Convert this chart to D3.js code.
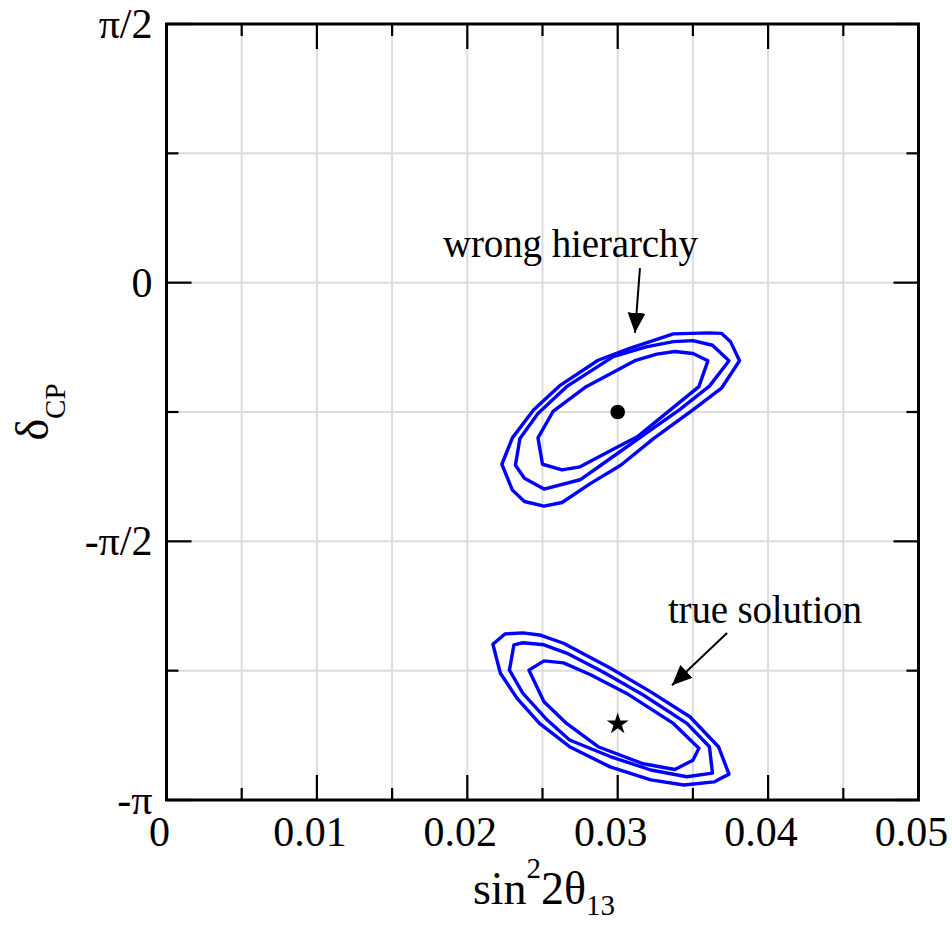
<!DOCTYPE html>
<html>
<head>
<meta charset="utf-8">
<script src="https://cdn.jsdelivr.net/npm/d3@7"></script>
<style>
  body { margin: 0; background: #fff; }
  svg { display: block; }
  text { font-family: "Liberation Serif", "Times New Roman", serif; fill: #000; }
</style>
</head>
<body>
<svg id="chart"></svg>
<script>
// x: sin^2 2theta13, y: delta_CP in units of pi
const xMajor = [0, 0.01, 0.02, 0.03, 0.04, 0.05];
const xMinor = [0.005, 0.015, 0.025, 0.035, 0.045];
const xTickLabels = ["0", "0.01", "0.02", "0.03", "0.04", "0.05"];
const yMajor = [0.5, 0, -0.5, -1];
const yMinor = [0.25, -0.25, -0.75];
const yTickLabels = ["π/2", "0", "-π/2", "-π"];

// wrong hierarchy contours (outer, middle, inner)
const wrongOuter = [
  [0.0337, -0.099], [0.0361, -0.097], [0.0369, -0.098], [0.0375, -0.114], [0.0381, -0.151],
  [0.0369, -0.204], [0.0350, -0.246], [0.0324, -0.301], [0.0302, -0.353], [0.0282, -0.388],
  [0.0263, -0.425], [0.0251, -0.432], [0.0238, -0.423], [0.0230, -0.401], [0.0223, -0.351],
  [0.0230, -0.300], [0.0244, -0.246], [0.0262, -0.198], [0.0287, -0.150], [0.0308, -0.127]
];
const wrongMiddle = [
  [0.0337, -0.114], [0.0350, -0.112], [0.0363, -0.121], [0.0374, -0.151], [0.0361, -0.200],
  [0.0341, -0.246], [0.0319, -0.291], [0.0297, -0.336], [0.0275, -0.381], [0.0251, -0.399],
  [0.0238, -0.378], [0.0232, -0.353], [0.0235, -0.301], [0.0247, -0.253], [0.0266, -0.201],
  [0.0297, -0.143], [0.0319, -0.124]
];
const wrongInner = [
  [0.0338, -0.133], [0.0350, -0.137], [0.0360, -0.151], [0.0354, -0.201], [0.0335, -0.246],
  [0.0313, -0.298], [0.0297, -0.322], [0.0275, -0.356], [0.0263, -0.362], [0.0250, -0.351],
  [0.0247, -0.300], [0.0257, -0.249], [0.0279, -0.201], [0.0312, -0.150], [0.0326, -0.138]
];

// true solution contours (outer, middle, inner)
const trueOuter = [
  [0.0217, -0.699], [0.0225, -0.679], [0.0237, -0.677], [0.0248, -0.681], [0.0264, -0.697],
  [0.0279, -0.720], [0.0295, -0.745], [0.0322, -0.791], [0.0348, -0.839], [0.0367, -0.897],
  [0.0374, -0.950], [0.0364, -0.965], [0.0344, -0.971], [0.0322, -0.961], [0.0295, -0.936],
  [0.0268, -0.897], [0.0248, -0.852], [0.0233, -0.803], [0.0222, -0.755]
];
const trueMiddle = [
  [0.0231, -0.700], [0.0237, -0.696], [0.0251, -0.700], [0.0266, -0.716], [0.0290, -0.752],
  [0.0317, -0.797], [0.0346, -0.852], [0.0361, -0.897], [0.0363, -0.948], [0.0346, -0.955],
  [0.0322, -0.942], [0.0295, -0.916], [0.0268, -0.884], [0.0253, -0.845], [0.0237, -0.794],
  [0.0228, -0.749]
];
const trueInner = [
  [0.0241, -0.749], [0.0251, -0.731], [0.0264, -0.735], [0.0282, -0.758], [0.0306, -0.794],
  [0.0337, -0.852], [0.0354, -0.900], [0.0350, -0.923], [0.0338, -0.941], [0.0317, -0.930],
  [0.0287, -0.897], [0.0266, -0.852], [0.0251, -0.810]
];

const wrongBest = [0.03, -0.25];
const trueBest = [0.03, -0.853];

const notes = [
  { text: "wrong hierarchy", tx: 0.01838, ty: 0.050, from: [0.03148, 0.028], to: [0.03115, -0.097] },
  { text: "true solution", tx: 0.03334, ty: -0.658, from: [0.03727, -0.677], to: [0.03361, -0.778] }
];

const width = 952, height = 926;
const margin = { top: 24, right: 33.5, bottom: 126, left: 166.5 };

const svg = d3.select("#chart").attr("width", width).attr("height", height);

const x = d3.scaleLinear().domain([0, 0.05]).range([margin.left, width - margin.right]);
const y = d3.scaleLinear().domain([-1, 0.5]).range([height - margin.bottom, margin.top]);

// grid
const grid = svg.append("g").attr("stroke", "#dcdcdc").attr("stroke-width", 2);
grid.selectAll(".gx").data(xMajor.concat(xMinor)).join("line")
  .attr("x1", d => x(d)).attr("x2", d => x(d))
  .attr("y1", y(-1)).attr("y2", y(0.5));
grid.selectAll(".gy").data(yMajor.concat(yMinor)).join("line")
  .attr("x1", x(0)).attr("x2", x(0.05))
  .attr("y1", d => y(d)).attr("y2", d => y(d));

// ticks, inward on all four sides
const majorLen = 25, minorLen = 12;
const ticks = svg.append("g").attr("stroke", "#000").attr("stroke-width", 2.2);
const xt = xMajor.map(v => [v, majorLen]).concat(xMinor.map(v => [v, minorLen]));
const yt = yMajor.map(v => [v, majorLen]).concat(yMinor.map(v => [v, minorLen]));
ticks.selectAll(".tb").data(xt).join("line")
  .attr("x1", d => x(d[0])).attr("x2", d => x(d[0]))
  .attr("y1", y(-1)).attr("y2", d => y(-1) - d[1]);
ticks.selectAll(".tt").data(xt).join("line")
  .attr("x1", d => x(d[0])).attr("x2", d => x(d[0]))
  .attr("y1", y(0.5)).attr("y2", d => y(0.5) + d[1]);
ticks.selectAll(".tl").data(yt).join("line")
  .attr("y1", d => y(d[0])).attr("y2", d => y(d[0]))
  .attr("x1", x(0)).attr("x2", d => x(0) + d[1]);
ticks.selectAll(".tr").data(yt).join("line")
  .attr("y1", d => y(d[0])).attr("y2", d => y(d[0]))
  .attr("x1", x(0.05)).attr("x2", d => x(0.05) - d[1]);

// contours
const line = d3.line()
  .x(d => x(d[0]))
  .y(d => y(d[1]))
  .curve(d3.curveLinearClosed);

svg.append("g")
  .selectAll("path")
  .data([wrongOuter, wrongMiddle, wrongInner, trueOuter, trueMiddle, trueInner])
  .join("path")
  .attr("d", line)
  .attr("fill", "none")
  .attr("stroke", "#0000ff")
  .attr("stroke-width", 3.4)
  .attr("stroke-linejoin", "round");

// best fit points
svg.append("circle")
  .attr("cx", x(wrongBest[0])).attr("cy", y(wrongBest[1]))
  .attr("r", 7.3).attr("fill", "#000");
svg.append("path")
  .attr("d", d3.symbol(d3.symbolStar, 150)())
  .attr("transform", `translate(${x(trueBest[0])},${y(trueBest[1])})`)
  .attr("fill", "#000");

// frame
svg.append("rect")
  .attr("x", x(0)).attr("y", y(0.5))
  .attr("width", x(0.05) - x(0)).attr("height", y(-1) - y(0.5))
  .attr("fill", "none").attr("stroke", "#000").attr("stroke-width", 3);

// annotations
svg.append("defs").append("marker")
  .attr("id", "arrow")
  .attr("markerUnits", "userSpaceOnUse")
  .attr("markerWidth", 20).attr("markerHeight", 20)
  .attr("viewBox", "0 -9 19 18")
  .attr("refX", 19).attr("refY", 0)
  .attr("orient", "auto")
  .append("path").attr("d", "M0,-8.5L19,0L0,8.5Z").attr("fill", "#000");

notes.forEach(n => {
  svg.append("text")
    .attr("x", x(n.tx)).attr("y", y(n.ty))
    .attr("font-size", 39)
    .attr("textLength", n.text === "wrong hierarchy" ? 255 : 194)
    .text(n.text);
  svg.append("line")
    .attr("x1", x(n.from[0])).attr("y1", y(n.from[1]))
    .attr("x2", x(n.to[0])).attr("y2", y(n.to[1]))
    .attr("stroke", "#000").attr("stroke-width", 2)
    .attr("marker-end", "url(#arrow)");
});

// tick labels
svg.append("g").selectAll("text").data(xMajor).join("text")
  .attr("x", d => x(d) - 7).attr("y", y(-1) + 46)
  .attr("text-anchor", "middle")
  .attr("font-size", 42)
  .text((d, i) => xTickLabels[i]);

svg.append("g").selectAll("text").data(yMajor).join("text")
  .attr("x", x(0) - 14).attr("y", d => y(d) + 14)
  .attr("text-anchor", "end")
  .attr("font-size", 42)
  .text((d, i) => yTickLabels[i]);

// axis titles
const xl = svg.append("text")
  .attr("x", 544).attr("y", 904)
  .attr("text-anchor", "middle")
  .attr("font-size", 46);
xl.append("tspan").text("sin");
xl.append("tspan").attr("font-size", 29).attr("dy", -26).text("2");
xl.append("tspan").attr("dy", 26).text("2θ");
xl.append("tspan").attr("font-size", 29).attr("dy", 11).text("13");

const yl = svg.append("text")
  .attr("transform", "translate(48,412) rotate(-90)")
  .attr("text-anchor", "middle")
  .attr("font-size", 46);
yl.append("tspan").text("δ");
yl.append("tspan").attr("font-size", 29).attr("dy", 17).text("CP");
</script>
</body>
</html>
